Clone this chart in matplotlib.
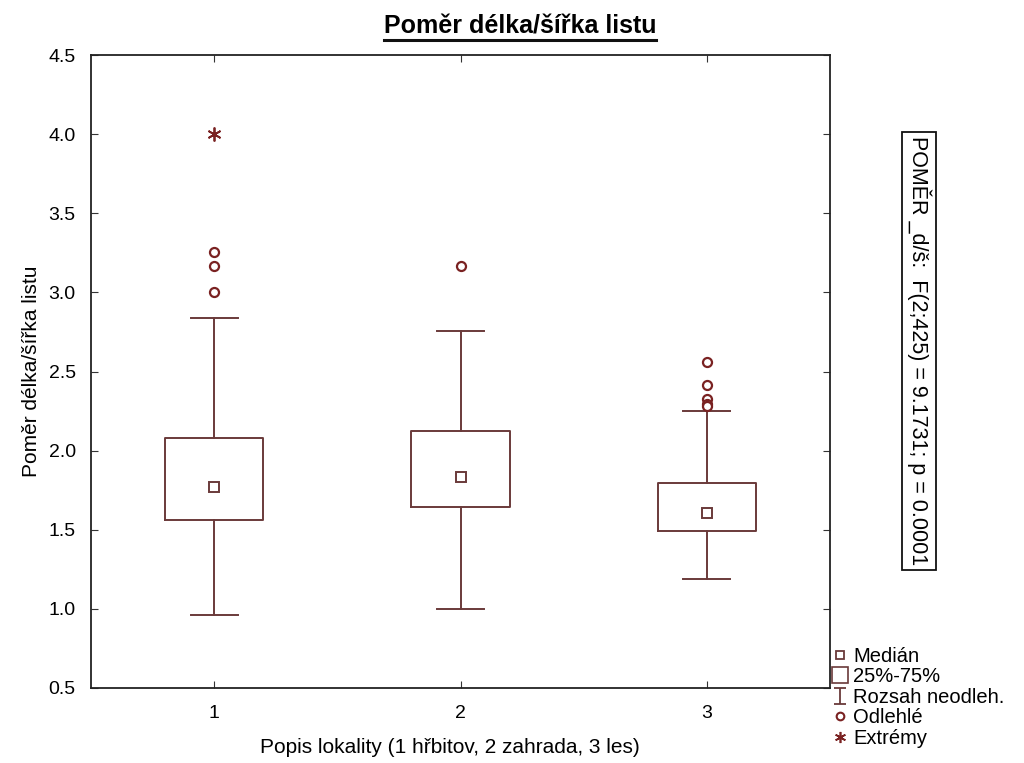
import matplotlib
matplotlib.use('Agg')
import matplotlib.pyplot as plt
import numpy as np
from matplotlib.lines import Line2D
from matplotlib.path import Path

plt.rcParams['font.family'] = ['Liberation Sans', 'DejaVu Sans']

# data
lokality = [1, 2, 3]
medians = [1.77, 1.836, 1.607]
q1 = [1.56, 1.643, 1.49]
q3 = [2.08, 2.126, 1.796]
whis_lo = [0.96, 1.0, 1.187]
whis_hi = [2.837, 2.753, 2.249]
outliers = [[3.256, 3.167, 3.0], [3.167], [2.558, 2.417, 2.326, 2.295, 2.28]]
extremes = [[4.0], [], []]

line_c = '#6a3a3a'
mark_c = '#7a2222'

fig = plt.figure(figsize=(10.24, 7.63), dpi=100)
ax = fig.add_axes([91/1024, 1-688/763, (830-91)/1024, (688-55)/763])

stats = []
for i in range(3):
    stats.append(dict(med=medians[i], q1=q1[i], q3=q3[i],
                      whislo=whis_lo[i], whishi=whis_hi[i], fliers=outliers[i]))

ax.bxp(stats, positions=lokality, widths=0.4,
       boxprops=dict(color=line_c, linewidth=1.4),
       whiskerprops=dict(color=line_c, linewidth=1.4),
       capprops=dict(color=line_c, linewidth=1.4),
       medianprops=dict(linestyle='none'),
       flierprops=dict(marker='o', markerfacecolor='white', markeredgecolor=mark_c,
                       markersize=6.5, markeredgewidth=1.6),
       capwidths=0.19)

ax.plot(lokality, medians, 's', markerfacecolor='white', markeredgecolor=line_c,
        markersize=6.5, markeredgewidth=1.4, linestyle='none')

for x, ex in zip(lokality, extremes):
    if ex:
        ax.plot([x]*len(ex), ex, marker=(6, 2, 0), color=mark_c, markersize=10,
                markeredgewidth=1.3, linestyle='none')

ax.set_xlim(0.5, 3.5)
ax.set_ylim(0.5, 4.5)
ax.set_xticks(lokality)
ax.set_yticks(np.arange(0.5, 4.51, 0.5))
ax.set_yticklabels(['%.1f' % v for v in np.arange(0.5, 4.51, 0.5)])
ax.tick_params(direction='in', length=5, top=True, right=True, labelsize=14,
               color='#333333')
ax.tick_params(axis='y', pad=11)
ax.tick_params(axis='x', pad=12)
for s in ax.spines.values():
    s.set_linewidth(1.3)
    s.set_color('#222222')

ax.set_xlabel('Popis lokality (1 hřbitov, 2 zahrada, 3 les)', fontsize=15)
ax.xaxis.set_label_coords((450-91)/739, (688-738)/633)
ax.set_ylabel('Poměr délka/šířka listu', fontsize=15)
ax.yaxis.set_label_coords((41-91)/739, 0.5)

title = fig.text(520/1024, 1-27/763, 'Poměr délka/šířka listu', fontsize=18,
                 fontweight='bold', ha='center', va='center')

fig.text(919/1024, 1-351/763, 'POMĚR _d/š:  F(2;425) = 9.1731; p = 0.0001',
         rotation=-90, fontsize=15.5, ha='center', va='center',
         bbox=dict(boxstyle='square,pad=0.2', facecolor='white', edgecolor='#111111',
                   linewidth=1.3))

# legend
ikona = Path([(0, -1), (0, 1), (-0.8, 1), (0.8, 1), (-0.8, -1), (0.8, -1)],
             [Path.MOVETO, Path.LINETO, Path.MOVETO, Path.LINETO, Path.MOVETO, Path.LINETO])
handles = [
    Line2D([], [], marker='s', linestyle='none', markerfacecolor='white',
           markeredgecolor=line_c, markersize=5.5, markeredgewidth=1.3),
    Line2D([], [], marker='s', linestyle='none', markerfacecolor='white',
           markeredgecolor=line_c, markersize=12, markeredgewidth=1.2),
    Line2D([], [], marker=ikona, linestyle='none', color=line_c, markersize=11,
           markeredgewidth=1.3),
    Line2D([], [], marker='o', linestyle='none', markerfacecolor='white',
           markeredgecolor=mark_c, markersize=5.5, markeredgewidth=1.5),
    Line2D([], [], marker=(6, 2, 0), linestyle='none', color=mark_c, markersize=8,
           markeredgewidth=1.2),
]
labels = ['Medián', '25%-75%', 'Rozsah neodleh.', 'Odlehlé', 'Extrémy']
fig.legend(handles, labels, loc='upper left', bbox_to_anchor=(831/1024, 1-647/763),
           frameon=False, fontsize=14.5, handlelength=0.85, handletextpad=0.25,
           labelspacing=0.07, borderpad=0.0, borderaxespad=0.0)

# underline of the title
fig.canvas.draw()
bb = title.get_window_extent().transformed(fig.transFigure.inverted())
fig.add_artist(Line2D([bb.x0, bb.x1], [1-40/763, 1-40/763],
                      transform=fig.transFigure, color='#111111', linewidth=2.2))

fig.savefig('out.png', dpi=100)
